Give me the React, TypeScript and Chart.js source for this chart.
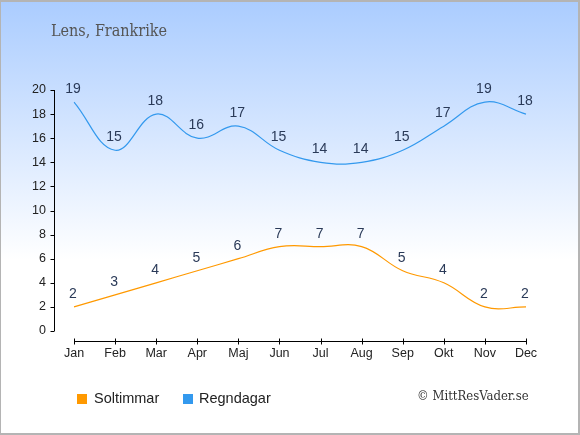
import React, { useEffect, useRef } from 'react';
import { Chart, registerables } from 'chart.js';

Chart.register(...registerables);

const months = ['Jan', 'Feb', 'Mar', 'Apr', 'Maj', 'Jun', 'Jul', 'Aug', 'Sep', 'Okt', 'Nov', 'Dec'];
const sunHours = [2, 3, 4, 5, 6, 7, 7, 7, 5, 4, 2, 2];
const rainDays = [19, 15, 18, 16, 17, 15, 14, 14, 15, 17, 19, 18];
const yTicks = [0, 2, 4, 6, 8, 10, 12, 14, 16, 18, 20];

const SUN_COLOR = '#ff9900';
const RAIN_COLOR = '#3399ee';

// draws the detached axis lines and their tick marks
const axesPlugin = {
  id: 'axesLines',
  afterDraw(chart: any) {
    const { ctx, chartArea, scales } = chart;
    const x = scales.x;
    const y = scales.y;
    ctx.save();
    ctx.strokeStyle = '#000';
    ctx.lineWidth = 1;

    const ax = Math.round(chartArea.left - 20) + 0.5;
    ctx.beginPath();
    ctx.moveTo(ax, y.getPixelForValue(20));
    ctx.lineTo(ax, y.getPixelForValue(0));
    yTicks.forEach((v) => {
      const py = Math.round(y.getPixelForValue(v)) + 0.5;
      ctx.moveTo(ax - 4, py);
      ctx.lineTo(ax, py);
    });
    ctx.stroke();

    const ay = Math.round(chartArea.bottom + 10) + 0.5;
    ctx.beginPath();
    ctx.moveTo(x.getPixelForValue(0), ay);
    ctx.lineTo(x.getPixelForValue(months.length - 1), ay);
    months.forEach((_, i) => {
      const px = Math.round(x.getPixelForValue(i)) + 0.5;
      ctx.moveTo(px, ay - 3);
      ctx.lineTo(px, ay + 3);
    });
    ctx.stroke();
    ctx.restore();
  },
};

// value labels above every point
const valueLabels = {
  id: 'valueLabels',
  afterDatasetsDraw(chart: any) {
    const { ctx } = chart;
    ctx.save();
    ctx.font = '14px "Liberation Sans", Arial, sans-serif';
    ctx.fillStyle = '#2a3a58';
    ctx.textAlign = 'center';
    ctx.textBaseline = 'middle';
    chart.data.datasets.forEach((ds: any, di: number) => {
      const meta = chart.getDatasetMeta(di);
      meta.data.forEach((pt: any, i: number) => {
        ctx.fillText(String(ds.data[i]), pt.x - 1, pt.y - 13);
      });
    });
    ctx.restore();
  },
};

const App: React.FC = () => {
  const canvasRef = useRef<HTMLCanvasElement>(null);
  const chartRef = useRef<Chart | null>(null);

  useEffect(() => {
    document.body.style.margin = '0';
    if (!canvasRef.current) return;
    if (chartRef.current) chartRef.current.destroy();

    chartRef.current = new Chart(canvasRef.current, {
      type: 'line',
      data: {
        labels: months,
        datasets: [
          {
            label: 'Soltimmar',
            data: sunHours,
            borderColor: SUN_COLOR,
            backgroundColor: SUN_COLOR,
            borderWidth: 1.2,
            tension: 0.4,
            pointRadius: 0,
            fill: false,
          },
          {
            label: 'Regndagar',
            data: rainDays,
            borderColor: RAIN_COLOR,
            backgroundColor: RAIN_COLOR,
            borderWidth: 1.2,
            tension: 0.4,
            pointRadius: 0,
            fill: false,
          },
        ],
      },
      options: {
        animation: false,
        responsive: false,
        devicePixelRatio: 1,
        layout: { padding: { top: 90, left: 0, right: 54, bottom: 64 } },
        plugins: {
          legend: { display: false },
          title: { display: false },
          tooltip: { enabled: false },
        },
        scales: {
          x: {
            grid: { display: false, drawTicks: false },
            border: { display: false },
            ticks: {
              color: '#222',
              font: { size: 12.5, family: '"Liberation Sans", Arial, sans-serif' },
              padding: 15,
              maxRotation: 0,
              autoSkip: false,
            },
            afterFit: (scale: any) => {
              scale.height = 40;
            },
          },
          y: {
            min: 0,
            max: 20,
            grid: { display: false, drawTicks: false },
            border: { display: false },
            ticks: {
              stepSize: 2,
              color: '#222',
              font: { size: 12.5, family: '"Liberation Sans", Arial, sans-serif' },
              padding: 28,
            },
            afterFit: (scale: any) => {
              scale.width = 74;
            },
          },
        },
      },
      plugins: [axesPlugin, valueLabels],
    });

    return () => {
      if (chartRef.current) {
        chartRef.current.destroy();
        chartRef.current = null;
      }
    };
  }, []);

  const legendText: React.CSSProperties = {
    position: 'absolute',
    top: 389,
    font: '14.5px "Liberation Sans", Arial, sans-serif',
    color: '#222',
    lineHeight: '18px',
  };
  const square = (left: number, color: string): React.CSSProperties => ({
    position: 'absolute',
    left,
    top: 394,
    width: 10,
    height: 10,
    background: color,
  });

  return (
    <div
      style={{
        position: 'fixed',
        top: 0,
        left: 0,
        width: 580,
        height: 435,
        background: 'linear-gradient(to bottom, #aaccff 0px, #ffffff 260px)',
        overflow: 'hidden',
      }}
    >
      <canvas ref={canvasRef} width={580} height={435} style={{ position: 'absolute', left: 0, top: 0 }} />
      <div
        style={{
          position: 'absolute',
          left: 51,
          top: 21,
          fontFamily: '"DejaVu Serif", serif',
          fontStretch: 'condensed',
          fontSize: 16,
          color: '#555',
          lineHeight: '20px',
          whiteSpace: 'nowrap',
        }}
      >
        Lens, Frankrike
      </div>
      <div style={square(77, SUN_COLOR)} />
      <div style={{ ...legendText, left: 94 }}>Soltimmar</div>
      <div style={square(183, RAIN_COLOR)} />
      <div style={{ ...legendText, left: 199 }}>Regndagar</div>
      <div
        style={{
          position: 'absolute',
          left: 417,
          top: 387,
          fontFamily: '"DejaVu Serif", serif',
          fontStretch: 'condensed',
          fontSize: 13,
          color: '#333',
          lineHeight: '18px',
          whiteSpace: 'nowrap',
        }}
      >
        © MittResVader.se
      </div>
      <div
        style={{
          position: 'absolute',
          inset: 0,
          borderStyle: 'solid',
          borderColor: '#b4b4b4',
          borderWidth: '2px 2px 2px 1px',
          pointerEvents: 'none',
        }}
      />
    </div>
  );
};

export default App;
